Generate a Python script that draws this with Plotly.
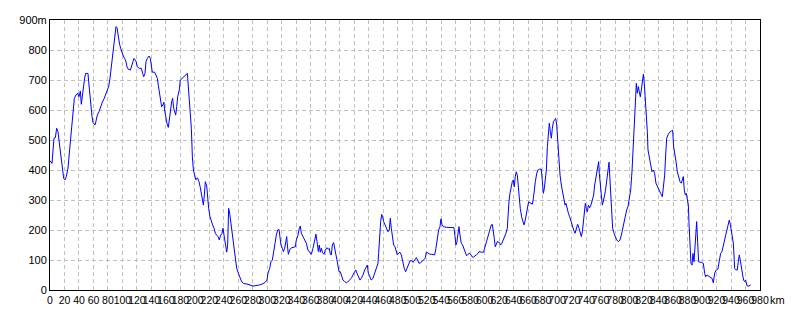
import plotly.graph_objects as go

# Distance along route (km) and elevation (m)
distance_km = [
    0, 2.8, 5.5, 7.4, 9.2, 11, 12.4, 13.8, 15.6, 17,
    18.9, 20.7, 22.5, 24.8, 27.1, 29.4, 30.8, 32.2, 33.6, 35.9,
    38.2, 40, 41.9, 43.2, 44.6, 46, 47.8, 49.2, 52.4, 53.4,
    55.2, 56.1, 58, 59.3, 62.1, 63.5, 65.3, 67.6, 69.9, 72.2,
    74.5, 76.8, 79.1, 81, 82.8, 84.6, 86.5, 88.3, 89.7, 91.1,
    92.5, 93.8, 94.8, 96.1, 97.5, 99.4, 101.2, 103, 104.9, 106.3,
    107.6, 110.9, 113.2, 115.9, 118.7, 120.5, 123.3, 126, 127.9, 129.3,
    131.1, 132.5, 134.3, 136.6, 138.5, 140.3, 141.2, 144.4, 146.3, 148.1,
    149.5, 150.9, 152.7, 154.1, 155.9, 157.3, 158.2, 159.6, 161.4, 163.3,
    165.1, 166.5, 167.9,
    169.3, 170.7, 172.1, 173.5, 174.9, 176.2, 178.5, 179.9, 189.6, 190.5,
    191.9, 193.7, 195.1, 196.5, 197.9, 199.7, 201.1, 203.4, 205.7, 207.5,
    208.9, 210.3, 211.7, 213.1, 214.4, 216.3, 217.6, 219, 220.9, 222.7,
    224.5, 226.4, 228.2, 230.1, 231.9, 233.7, 235.6, 237.4, 238.8, 240.2,
    242, 243.9, 245.2, 246.6, 248, 249.4, 250.8, 252.1, 254, 255.8,
    257.7, 260, 262.3, 264.1, 266.9, 273.3, 280.2, 284.8, 289.4, 294,
    297.2, 299.5, 300.9, 303.2, 305, 306.9, 308.7, 310.6, 312.4, 314.2,
    316.1, 317.5, 318.8, 320.7, 322.1, 323.9, 325.3, 326.7, 327.6, 329,
    330.8, 332.2, 334,
    338.6, 340, 342.3, 344.1, 345.5, 346.9, 349.2, 351.5, 353.8, 356.1,
    358.4, 360.7, 363, 365.3, 367.1, 368.9, 370.4, 371.7, 373.1, 374.5,
    376.3, 378.2, 380, 382.3, 384.2, 385.5, 386.9, 388.3, 389.7, 391.5,
    392.9, 394.7, 396.1, 397.5, 398.9, 400.7, 402.1, 404.4, 406.7, 409,
    411.3, 413.6, 415.9, 418.2, 420.5, 421.9, 423.7, 426, 427.9, 429.7,
    432, 434.3, 436.1, 438, 439.4, 441.2, 443.5, 445.8, 448.1, 450.4,
    452.7, 453.6, 455, 456.4, 457.8, 459.1, 460.5, 462.4, 464.2, 466.5,
    468.3, 469.7, 471.1, 472.5, 474.3, 476.2, 478, 479.4, 481.2, 483.1,
    484.9, 487.2, 489, 490.9, 492.7, 494.6, 496.9,
    499.2, 501, 503.3, 505.6, 507.9, 509.3, 511.6, 513.9, 516.2, 518,
    519.4, 521.7, 524, 526.3, 528.6, 530.9, 532.7, 534.6, 536.4, 538.3,
    539.6, 541, 542.9, 547, 551.6, 557.6, 559, 560.3, 561.7, 563.1,
    564.5, 565.9, 567.7, 569.5, 571.4, 573.2, 575, 576.9, 578.7, 580.6,
    582.4, 584.2, 586.1, 588.4, 590.7, 592.1, 595.3, 598.5, 599.9, 601.7,
    603.6, 605.4, 607.3, 609.1, 610.5, 611.9, 613.2, 614.6, 616, 617.4,
    620.1, 622, 623.8, 625.7, 627.5, 629.3, 631.2, 632.1, 633.5, 634.9,
    636.7, 638.1, 639.5, 640.8, 642.2, 643.6, 645, 646.4, 647.7, 649.1,
    651, 652.8, 654.2, 656, 657.9, 659.2, 660.6, 662.5, 664.8,
    665.8, 667.2, 668.5, 669.9, 671.8, 673.6, 675.9, 678.2, 679.6, 681,
    682.3, 683.7, 685.1, 686.5, 687.9, 689.2, 690.6, 692, 693.4, 694.8,
    696.6, 698, 699.4, 701.2, 702.6, 704, 705.8, 707.6, 709.5, 710.9,
    712.2, 713.6, 715.5, 717.3, 719.1, 721, 722.8, 724.7, 726.5, 728.3,
    730.2, 731.6, 733.4, 734.8, 736.2, 737.5, 738.9, 740.3, 741.7, 743.1,
    744.9, 746.7, 748.6, 750.4, 751.8, 753.2, 754.6, 755.9, 757.3, 758.2,
    759.6, 761, 762.4, 763.8, 765.1, 766.5, 767.9, 769.3, 770.7, 771.6,
    772.5, 773.9, 775.3, 776.6, 778.5, 780.3, 782.2, 784.5, 786.8, 788.6,
    790.5, 792.3, 794.1, 796, 797.8, 799.6, 801.5, 803.3, 805.2, 807,
    808.4, 809.3, 810.7, 812.1, 813.4, 814.8, 816.2, 817.6, 819, 820.3,
    821.7, 823.1, 824.5,
    825.4, 827.2, 829.1, 830.9, 832.8, 834.6, 836.4, 838.3, 840.6, 842.9,
    845.2, 847, 848.4, 849.8, 851.2, 853, 855.3, 857.6, 859.4, 860.8,
    862.2, 864.1, 865.9, 867.7, 869.6, 871.4, 872.8, 874.2, 875.5, 876.9,
    878.3, 879.7, 881.1, 882, 883.4, 884.7, 886.1, 887.5, 888.9, 890.3,
    891.6, 892.6, 893.9, 895.3, 899, 901.8, 903.6, 905, 906.8, 909.1,
    911.9, 913.7, 915.6, 917.4, 919.7, 922, 923.8, 925.7, 927.5, 929.4,
    931.2, 933, 934.9, 936.3, 937.6, 939, 940.4, 941.8, 943.2, 944.1,
    945, 946.8, 948.7, 950, 951.4, 952.8, 954.2, 956, 957.4, 958.8,
    960.2, 962, 964.8, 967.1,
]

elevation_m = [
    431, 422, 506, 508, 539, 528, 500, 472, 444, 417,
    372, 367, 378, 406, 461, 533, 561, 583, 639, 650,
    656, 644, 663, 619, 650, 678, 706, 722, 722, 694,
    650, 611, 578, 559, 550, 563, 583, 594, 611, 626,
    637, 652, 661, 678, 706, 744, 783, 817, 856, 878,
    874, 850, 828, 819, 806, 789, 780, 772, 761, 744,
    737, 733, 750, 772, 763, 744, 739, 739, 722, 711,
    722, 761, 772, 780, 772, 744, 726, 726, 717, 706,
    683, 661, 628, 611, 617, 626, 600, 572, 556, 542,
    567, 600, 628,
    639, 606, 594, 583, 611, 644, 667, 700, 722, 689,
    628, 589, 539, 444, 400, 383, 367, 374, 361, 341,
    322, 303, 283, 317, 361, 347, 306, 272, 244, 228,
    217, 206, 189, 183, 178, 167, 183, 189, 206, 183,
    150, 126, 150, 272, 256, 228, 206, 183, 139, 100,
    72, 56, 39, 30, 22, 19, 13, 14, 17, 21,
    26, 33, 56, 72, 94, 100, 122, 156, 183, 200,
    202, 178, 150, 139, 128, 139, 161, 178, 150, 119,
    133, 139, 141,
    144, 167, 183, 206, 213, 189, 178, 167, 156, 133,
    126, 119, 139, 161, 186, 156, 128, 150, 126, 139,
    124, 119, 133, 141, 136, 139, 119, 117, 150, 158,
    144, 117, 100, 72, 61, 61, 48, 33, 28, 24,
    28, 33, 39, 50, 61, 67, 56, 44, 33, 39,
    50, 67, 78, 83, 56, 48, 33, 39, 56, 72,
    89, 122, 194, 228, 252, 244, 228, 217, 206, 194,
    200, 239, 206, 178, 150, 144, 128, 117, 122, 126,
    117, 89, 72, 61, 72, 89, 97,
    98, 92, 100, 108, 97, 89, 91, 97, 100, 106,
    126, 122, 120, 119, 119, 117, 139, 170, 200, 211,
    237, 219, 211, 209, 209, 208, 178, 150, 161, 194,
    211, 183, 156, 150, 139, 126, 114, 119, 122, 119,
    111, 109, 114, 117, 122, 128, 126, 126, 139, 156,
    172, 186, 200, 217, 219, 200, 172, 144, 156, 161,
    159, 150, 156, 167, 178, 189, 206, 250, 294, 322,
    350, 361, 367, 344, 378, 394, 383, 339, 294, 272,
    244, 228, 217, 233, 256, 272, 294, 291, 288,
    286, 306, 339, 361, 389, 400, 403, 403, 361, 322,
    339, 372, 400, 478, 517, 556, 528, 506, 539, 561,
    567, 572, 550, 489, 417, 383, 350, 322, 300, 283,
    289, 272, 256, 244, 228, 217, 200, 189, 206, 219,
    206, 189, 178, 194, 228, 256, 289, 272, 261, 283,
    274, 283, 300, 317, 350, 372, 400, 411, 428, 389,
    361, 317, 283, 294, 311, 328, 350, 378, 408, 426,
    389, 317, 250, 206, 189, 178, 167, 161, 167, 183,
    206, 233, 250, 267, 278, 306, 333, 394, 494, 561,
    633, 689, 656, 678, 661, 644, 667, 700, 719, 689,
    639, 594, 528,
    467, 439, 411, 394, 400, 389, 356, 344, 333, 322,
    311, 350, 383, 450, 506, 517, 526, 530, 533, 478,
    461, 428, 394, 378, 361, 356, 367, 378, 333, 317,
    322, 294, 283, 222, 161, 89, 83, 122, 94, 161,
    200, 228, 161, 94, 92, 89, 56, 44, 50, 47,
    44, 39, 24, 56, 67, 70, 97, 122, 128, 144,
    167, 186, 206, 222, 233, 219, 194, 172, 156, 117,
    72, 67, 67, 94, 117, 100, 72, 50, 33, 28,
    33, 14, 13, 17,
]

assert len(distance_km) == len(elevation_m), (len(distance_km), len(elevation_m))

x_tick_values = list(range(0, 981, 20))
x_tick_labels = [str(v) for v in x_tick_values]
y_tick_values = list(range(0, 901, 100))
y_tick_labels = [str(v) for v in y_tick_values[:-1]] + ["900m"]

font = dict(family="Liberation Sans, Arial, sans-serif", size=11, color="black")
x_font = dict(family="Liberation Sans Narrow, Arial Narrow, Liberation Sans, sans-serif",
              size=10.5, color="black")

fig = go.Figure(
    go.Scatter(
        x=distance_km,
        y=elevation_m,
        mode="lines",
        line=dict(color="#0000ff", width=1),
        hoverinfo="skip",
    )
)

fig.update_layout(
    width=800,
    height=320,
    margin=dict(l=50, r=40, t=20, b=30, pad=0),
    paper_bgcolor="white",
    plot_bgcolor="white",
    showlegend=False,
    font=font,
)

fig.update_xaxes(
    range=[0, 980],
    tickmode="array",
    tickvals=x_tick_values,
    ticktext=x_tick_labels,
    tickangle=0,
    ticks="",
    showgrid=True,
    gridcolor="#c0c0c0",
    griddash="4px,3px",
    gridwidth=1,
    showline=True,
    linecolor="black",
    linewidth=1,
    mirror=True,
    zeroline=False,
    tickfont=x_font,
)

fig.update_yaxes(
    range=[0, 900],
    tickmode="array",
    tickvals=y_tick_values,
    ticktext=y_tick_labels,
    ticks="",
    showgrid=True,
    gridcolor="#c0c0c0",
    griddash="4px,3px",
    gridwidth=1,
    showline=True,
    linecolor="black",
    linewidth=1,
    mirror=True,
    zeroline=False,
    tickfont=font,
)

fig.add_annotation(
    text="km",
    x=1, y=0, xref="paper", yref="paper",
    xanchor="left", yanchor="top",
    xshift=8, yshift=-2,
    showarrow=False,
    font=font,
)

fig.write_html("out.html", config={"displayModeBar": False, "staticPlot": True})
